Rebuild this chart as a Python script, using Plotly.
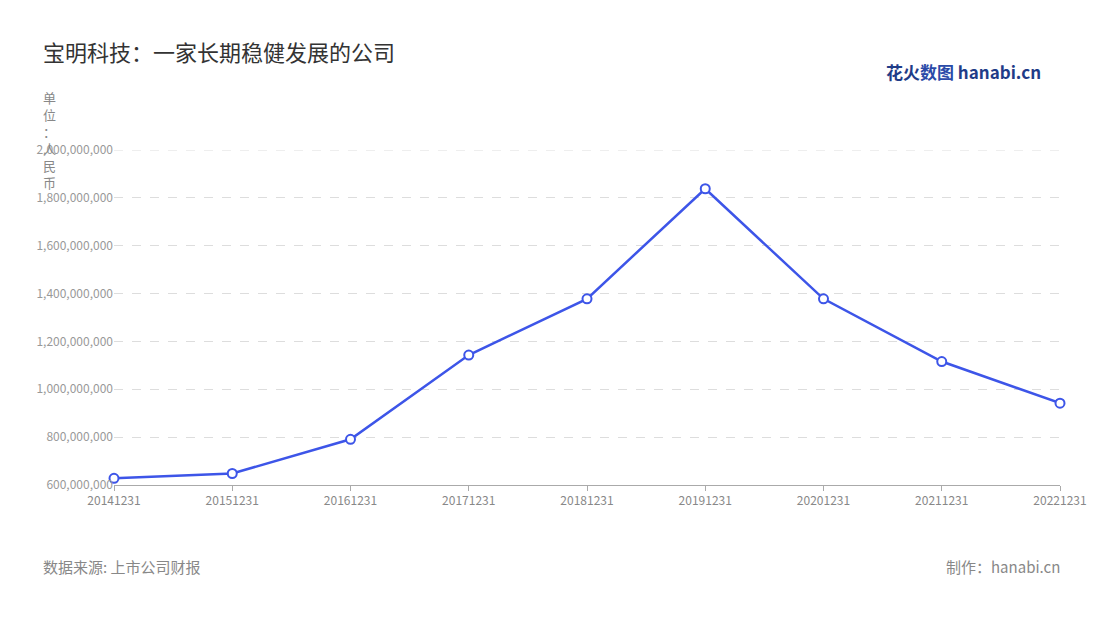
import plotly.graph_objects as go

dates = ["20141231","20151231","20161231","20171231","20181231","20191231","20201231","20211231","20221231"]
values = [628000000, 648000000, 791000000, 1143000000, 1378000000, 1838000000, 1378000000, 1116000000, 942000000]
yticks = [600000000, 800000000, 1000000000, 1200000000, 1400000000, 1600000000, 1800000000, 2000000000]

fig = go.Figure(go.Scatter(
    x=dates, y=values, mode="lines+markers",
    line=dict(color="#3d55e8", width=2.5),
    marker=dict(size=9, color="white", line=dict(color="#3d55e8", width=2)),
    hoverinfo="x+y", cliponaxis=False))

font = "Noto Sans CJK SC"
fig.update_layout(
    width=1100, height=620, paper_bgcolor="white", plot_bgcolor="white",
    margin=dict(l=106, r=48, t=142, b=143),
    font=dict(family=font, color="#888"),
    showlegend=False,
    xaxis=dict(type="category", range=[0, 8], showgrid=False, showline=True, linecolor="#aaa",
               ticks="outside", ticklen=5, tickcolor="#aaa", tickfont=dict(size=12, color="#888")),
    yaxis=dict(range=[600000000, 2000000000], tickvals=yticks, tickformat=",d",
               showgrid=True, gridcolor="#ddd", griddash="dash", zeroline=False,
               showline=False, tickfont=dict(size=12, color="#999")),
)
fig.add_shape(type="line", xref="paper", yref="y", x0=0, x1=1, y0=yticks[-1], y1=yticks[-1],
              line=dict(color="#ddd", width=1, dash="dash"), layer="below")
fig.add_annotation(text="宝明科技：一家长期稳健发展的公司", xref="paper", yref="paper", x=-0.077, y=1.35,
                   xanchor="left", showarrow=False, font=dict(size=22, color="#333", family=font))
fig.add_annotation(text="<b><span style='color:#1f3c88'>花火</span><span style='color:#2a4aa8'>数图</span> <span style='color:#1f3c88'>hanabi.cn</span></b>",
                   xref="paper", yref="paper", x=0.982, y=1.278, xanchor="right", showarrow=False,
                   font=dict(size=17, family=font))
fig.add_annotation(text="单<br>位<br>：<br>人<br>民<br>币", xref="paper", yref="paper", x=-0.068, y=1.19,
                   xanchor="center", yanchor="top", showarrow=False, align="center",
                   font=dict(size=13, color="#888", family=font))
fig.add_annotation(text="数据来源: 上市公司财报", xref="paper", yref="paper", x=-0.077, y=-0.28,
                   xanchor="left", showarrow=False, font=dict(size=15, color="#888", family=font))
fig.add_annotation(text="制作：hanabi.cn", xref="paper", yref="paper", x=1.002, y=-0.28,
                   xanchor="right", showarrow=False, font=dict(size=15, color="#888", family=font))
fig.write_html("out.html")
